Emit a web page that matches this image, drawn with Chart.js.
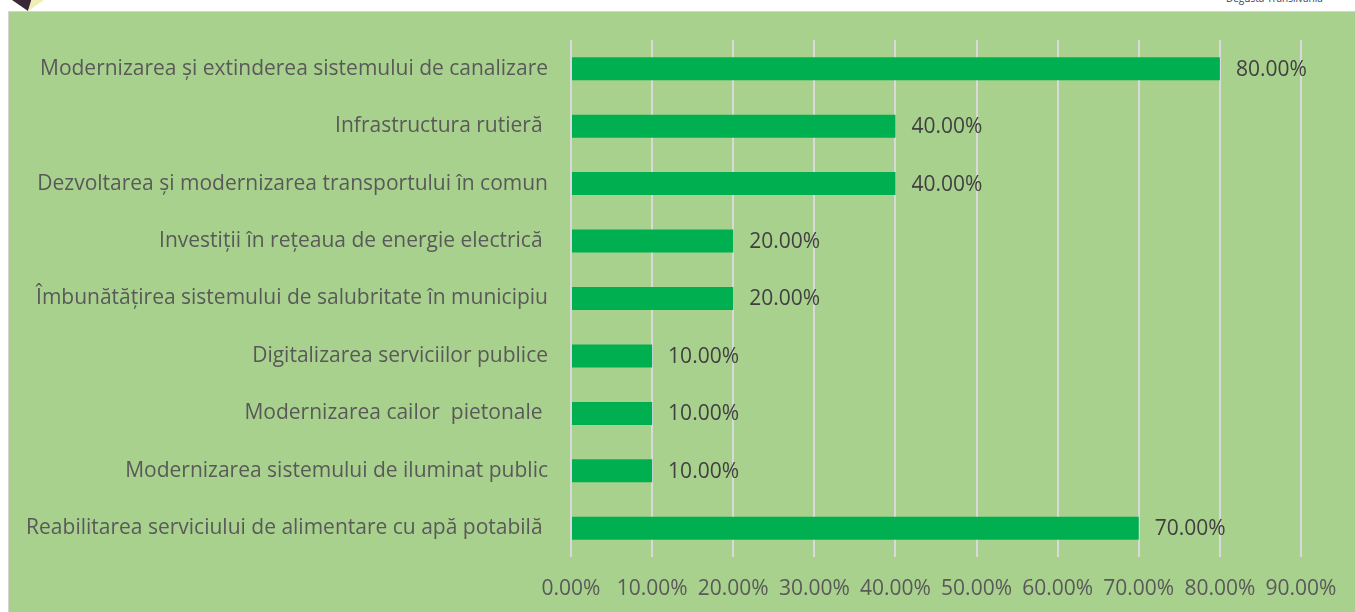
<!DOCTYPE html>
<html>
<head>
<meta charset="utf-8">
<script src="https://cdn.jsdelivr.net/npm/chart.js@4/dist/chart.umd.min.js"></script>
<style>
  html, body { margin: 0; padding: 0; background: #ffffff; width: 1355px; height: 612px; overflow: hidden; }
  #panel { position: absolute; left: 8px; top: 11px; width: 1347px; height: 601px; background: #a9d18e;
           border-left: 1px solid #d4d4d4; border-top: 1px solid #d4d4d4; box-sizing: border-box; }
  #wrap { position: absolute; left: 9px; top: 12px; width: 1346px; height: 600px; }
  #brand { position: absolute; left: 1226px; top: -9px; font-family: "Open Sans", sans-serif; font-size: 10px; line-height: 14px; color: #34405a; }
  #logoA { position: absolute; left: 12px; top: 0; width: 20px; height: 11px; background: #3a2838;
           clip-path: polygon(0 0, 100% 0, 80% 100%); }
  #logoB { position: absolute; left: 28px; top: 0; width: 16px; height: 11px; background: #eeeeb5;
           clip-path: polygon(20% 0, 100% 0, 0 100%); }
</style>
</head>
<body>
<div id="logoA"></div><div id="logoB"></div>
<div id="brand">Degusta Transilvania</div>
<div id="panel"></div>
<div id="wrap"><canvas id="c" width="1346" height="600"></canvas></div>
<script>
const categories = [
  "Modernizarea și extinderea sistemului de canalizare",
  "Infrastructura rutieră ",
  "Dezvoltarea și modernizarea transportului în comun",
  "Investiții în rețeaua de energie electrică ",
  "Îmbunătățirea sistemului de salubritate în municipiu",
  "Digitalizarea serviciilor publice",
  "Modernizarea cailor  pietonale ",
  "Modernizarea sistemului de iluminat public",
  "Reabilitarea serviciului de alimentare cu apă potabilă "
];
const values = [80, 40, 40, 20, 20, 10, 10, 10, 70];
const axisMin = 0, axisMax = 90, axisStep = 10;

const FONT = "'Open Sans', sans-serif";

const valueLabels = {
  id: 'valueLabels',
  afterDatasetsDraw(chart) {
    const ctx = chart.ctx;
    const meta = chart.getDatasetMeta(0);
    ctx.save();
    ctx.font = "21px " + FONT;
    ctx.fillStyle = "#404040";
    ctx.textAlign = "left";
    ctx.textBaseline = "middle";
    meta.data.forEach((bar, i) => {
      ctx.fillText(values[i].toFixed(2) + "%", bar.x + 16, bar.y + 1);
    });
    ctx.restore();
  }
};

new Chart(document.getElementById('c'), {
  type: 'bar',
  data: {
    labels: categories,
    datasets: [{
      data: values,
      backgroundColor: '#00b050',
      borderWidth: 0,
      barPercentage: 0.4,
      categoryPercentage: 1.0
    }]
  },
  options: {
    indexAxis: 'y',
    responsive: false,
    animation: false,
    layout: { padding: { left: 0, right: 54, top: 28, bottom: 0 } },
    plugins: { legend: { display: false }, tooltip: { enabled: false } },
    scales: {
      x: {
        min: axisMin, max: axisMax,
        ticks: {
          stepSize: axisStep,
          padding: 19,
          color: '#595959',
          font: { family: FONT, size: 21 },
          callback: v => Number(v).toFixed(2) + '%'
        },
        grid: { color: '#d9d9d9', lineWidth: 2, drawTicks: false },
        border: { display: false },
        afterFit: s => { s.height = 55; s.paddingLeft = 0; s.paddingRight = 0; }
      },
      y: {
        ticks: {
          padding: 23,
          color: '#595959',
          font: { family: FONT, size: 21 },
          autoSkip: false
        },
        grid: { display: false, drawTicks: false },
        border: { display: false },
        afterFit: s => { s.width = 562; s.paddingTop = 0; s.paddingBottom = 0; }
      }
    }
  },
  plugins: [valueLabels]
});
</script>
</body>
</html>
